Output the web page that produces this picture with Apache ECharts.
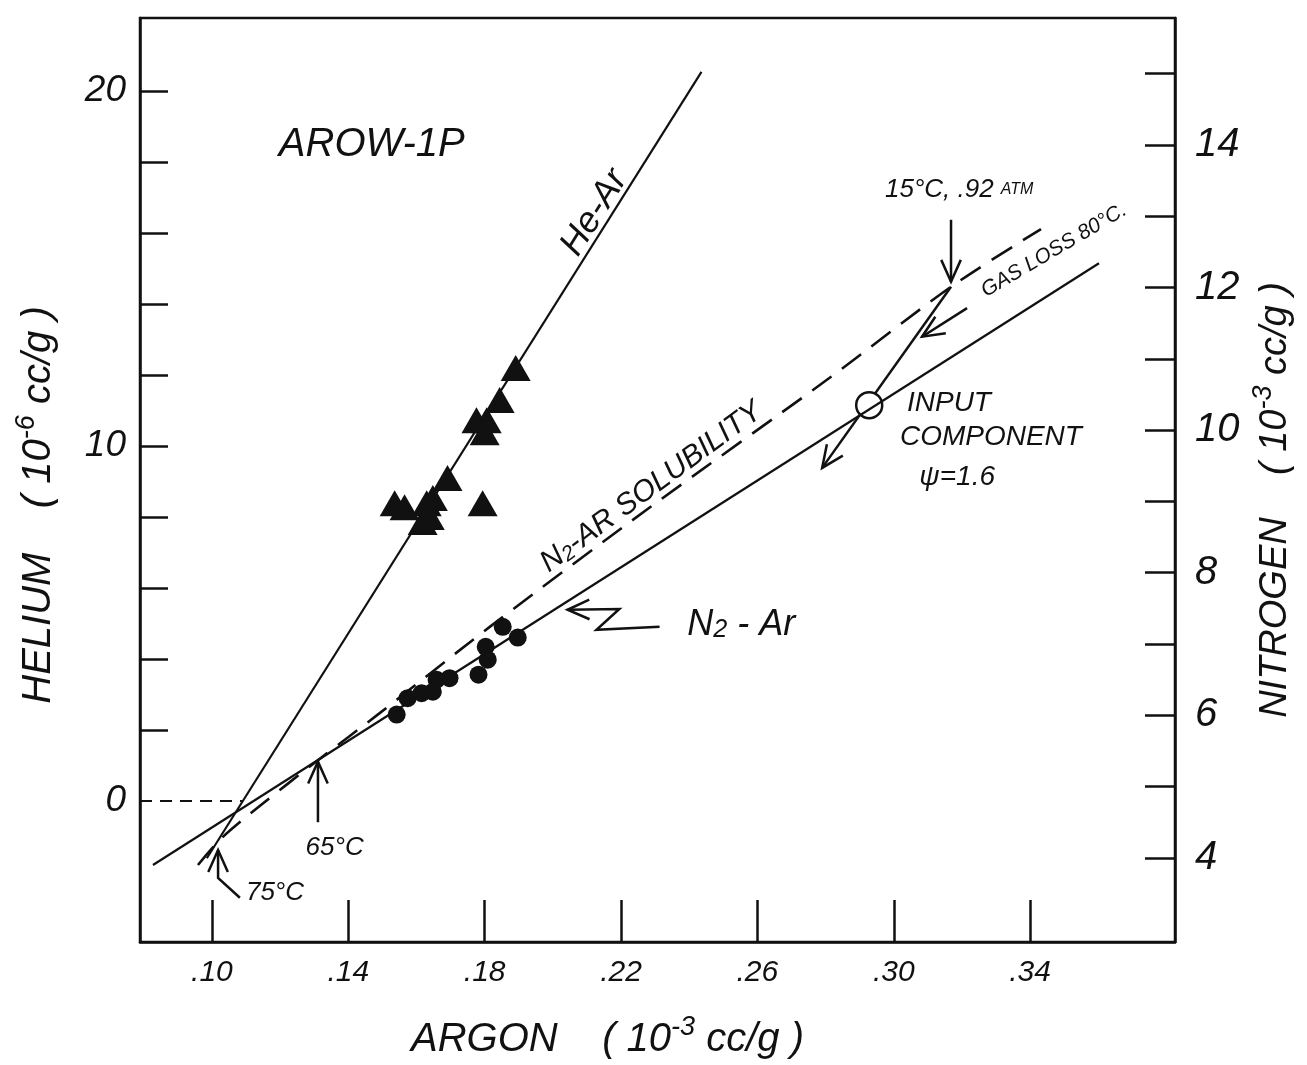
<!DOCTYPE html>
<html>
<head>
<meta charset="utf-8">
<script src="https://cdn.jsdelivr.net/npm/echarts@6/dist/echarts.min.js"></script>
<style>
  html, body { margin: 0; padding: 0; background: #fff; }
  #chart { width: 1307px; height: 1065px; }
</style>
</head>
<body>
<div id="chart"></div>
<script>
// argon in 10^-3 cc/g, helium in 10^-6 cc/g, nitrogen in 10^-3 cc/g
var argonTicks = [0.10, 0.14, 0.18, 0.22, 0.26, 0.30, 0.34]
var heliumTicks = [2, 4, 6, 8, 10, 12, 14, 16, 18, 20]
var heliumLabels = [0, 10, 20]
var nitrogenTicks = [4, 5, 6, 7, 8, 9, 10, 11, 12, 13, 14, 15]
var nitrogenLabels = [4, 6, 8, 10, 12, 14]

// He-Ar samples (triangles)
var heArPoints = [
  [0.1891, 12.20], [0.1844, 11.30], [0.1776, 10.73], [0.1806, 10.73],
  [0.1800, 10.39], [0.1691, 9.10], [0.1648, 8.54], [0.1630, 8.39],
  [0.1618, 7.86], [0.1639, 8.00], [0.1536, 8.39], [0.1565, 8.28],
  [0.1794, 8.39]
]
// N2-Ar samples (dots)
var n2ArPoints = [
  [0.1853, 7.24], [0.1897, 7.09], [0.1803, 6.96], [0.1809, 6.78],
  [0.1782, 6.57], [0.1697, 6.52], [0.1659, 6.50], [0.1648, 6.33],
  [0.1615, 6.31], [0.1574, 6.24], [0.1542, 6.01]
]
var heArFit = [[0.0985, -1.61], [0.2436, 20.54]]
var n2ArFit = [[0.0827, 3.90], [0.3602, 12.34]]
var solubility = [
  [0.0959, 3.90], [0.1029, 4.28], [0.1141, 4.73], [0.1311, 5.37],
  [0.1492, 6.03], [0.1815, 7.24], [0.2283, 8.91], [0.2811, 10.73],
  [0.3168, 12.01], [0.3432, 12.82]
]
var heliumZero = [[0.0789, 0], [0.1091, 0]]
var inputComponent = [[0.2928, 10.35]]

// arrows on the nitrogen scale, head at the last point
var arrows = [
  [[0.1311, 4.50], [0.1311, 5.35]],
  [[0.1082, 3.44], [0.1018, 3.72], [0.1018, 4.11]],
  [[0.3168, 12.95], [0.3168, 12.08]],
  [[0.3168, 12.01], [0.2790, 9.47]],
  [[0.3215, 11.71], [0.3083, 11.31]],
  [[0.2313, 7.24], [0.2128, 7.20], [0.2195, 7.49], [0.2043, 7.48]]
]

// notes: text, argon, nitrogen, angle
var notes = [
  ['AROW-1P', 0.1469, 14.00, 0],
  ['He-Ar', 0.2122, 13.05, 57.8],
  ['{t|N}{sub|2}{t|-AR SOLUBILITY}', 0.2289, 9.20, 36.3],
  ['{t|N}{sub|2}{t| - Ar}', 0.2553, 7.27, 0],
  ['65°C', 0.1360, 4.14, 0],
  ['75°C', 0.1185, 3.51, 0],
  ['{t|15°C, .92 }{s|ATM}', 0.3192, 13.37, 0],
  ['GAS LOSS 80°C.', 0.3470, 12.52, 30.5],
  ['INPUT', 0.3162, 10.38, 0],
  ['COMPONENT', 0.3285, 9.90, 0],
  ['ψ=1.6', 0.3186, 9.34, 0]
]

var font = 'Liberation Sans'
var ink = '#111'

var chart = echarts.init(document.getElementById('chart'), null, { renderer: 'canvas' })

function arrowItem(params, api) {
  var pts = arrows[params.dataIndex].map(function(p) { return api.coord(p) })
  var tip = pts[pts.length - 1]
  var prev = pts[pts.length - 2]
  var ang = Math.atan2(tip[1] - prev[1], tip[0] - prev[0])
  var len = 24
  var spread = 0.42
  var a1 = [tip[0] - len * Math.cos(ang - spread), tip[1] - len * Math.sin(ang - spread)]
  var a2 = [tip[0] - len * Math.cos(ang + spread), tip[1] - len * Math.sin(ang + spread)]
  var style = { stroke: ink, lineWidth: 2.5, fill: null }
  return {
    type: 'group',
    children: [
      { type: 'polyline', shape: { points: pts }, style: style },
      { type: 'polyline', shape: { points: [a1, tip, a2] }, style: style }
    ]
  }
}

function nameRich(size) {
  return {
    t: { fontSize: size, fontFamily: font, fontStyle: 'italic', color: ink },
    sup: { fontSize: 27, fontFamily: font, fontStyle: 'italic', color: ink, verticalAlign: 'top', padding: [0, 0, 24, 0] }
  }
}

var option = {
  animation: false,
  backgroundColor: '#fff',
  grid: {
    left: 140, right: 132, top: 18, bottom: 123,
    outerBoundsMode: 'none', containLabel: false,
    show: true, borderColor: ink, borderWidth: 2.5, backgroundColor: 'transparent'
  },
  xAxis: {
    type: 'value', min: 0.0789, max: 0.3825,
    splitLine: { show: false },
    axisLine: { onZero: false, lineStyle: { color: ink, width: 2.5 } },
    axisTick: { customValues: argonTicks, inside: true, length: 42, lineStyle: { color: ink, width: 2.5 } },
    axisLabel: {
      customValues: argonTicks, margin: 16, fontSize: 30, fontFamily: font, fontStyle: 'italic', color: ink,
      formatter: function(v) { return '.' + Math.round(v * 100) }
    },
    name: '{t|ARGON    ( 10}{sup|-3}{t| cc/g )}',
    nameLocation: 'middle', nameGap: 72,
    nameTextStyle: { padding: [0, 100, 0, 0], rich: nameRich(40) }
  },
  yAxis: [
    {
      type: 'value', min: -3.97, max: 22.06,
      splitLine: { show: false },
      axisLine: { onZero: false, lineStyle: { color: ink, width: 2.5 } },
      axisTick: { customValues: heliumTicks, inside: true, length: 28, lineStyle: { color: ink, width: 2.5 } },
      axisLabel: { customValues: heliumLabels, margin: 14, fontSize: 37, fontFamily: font, fontStyle: 'italic', color: ink },
      name: '{t|HELIUM    ( 10}{sup|-6}{t| cc/g )}',
      nameLocation: 'middle', nameGap: 76, nameRotate: 90,
      nameTextStyle: { padding: [0, 50, 0, 0], rich: nameRich(40) }
    },
    {
      type: 'value', min: 2.82, max: 15.78, position: 'right',
      splitLine: { show: false },
      axisLine: { onZero: false, lineStyle: { color: ink, width: 2.5 } },
      axisTick: { customValues: nitrogenTicks, inside: true, length: 30, lineStyle: { color: ink, width: 2.5 } },
      axisLabel: { customValues: nitrogenLabels, margin: 20, fontSize: 40, fontFamily: font, fontStyle: 'italic', color: ink },
      name: '{t|NITROGEN    ( 10}{sup|-3}{t| cc/g )}',
      nameLocation: 'middle', nameGap: 74, nameRotate: 90,
      nameTextStyle: { padding: [0, 40, 0, 0], rich: nameRich(38) }
    }
  ],
  series: [
    {
      type: 'line', data: heliumZero, yAxisIndex: 0, symbol: 'none',
      lineStyle: { color: ink, width: 2, type: [12, 8] }
    },
    {
      type: 'line', data: heArFit, yAxisIndex: 0, symbol: 'none',
      lineStyle: { color: ink, width: 2.2 }
    },
    {
      type: 'line', data: n2ArFit, yAxisIndex: 1, symbol: 'none',
      lineStyle: { color: ink, width: 2.2 }
    },
    {
      type: 'line', data: solubility, yAxisIndex: 1, symbol: 'none', smooth: 0.3,
      lineStyle: { color: ink, width: 2.6, type: [24, 13] }
    },
    {
      type: 'scatter', data: heArPoints, yAxisIndex: 0, symbol: 'triangle', symbolSize: [30, 26],
      itemStyle: { color: ink, opacity: 1 }
    },
    {
      type: 'scatter', data: n2ArPoints, yAxisIndex: 1, symbol: 'circle', symbolSize: 18,
      itemStyle: { color: ink, opacity: 1 }
    },
    {
      type: 'custom', yAxisIndex: 1, renderItem: arrowItem,
      data: arrows.map(function(a, i) { return [i] }),
      encode: { x: -1, y: -1 }
    },
    {
      type: 'scatter', data: inputComponent, yAxisIndex: 1, symbol: 'circle', symbolSize: 26,
      itemStyle: { color: '#fff', borderColor: ink, borderWidth: 2.5, opacity: 1 }
    },
    {
      type: 'scatter', yAxisIndex: 1, symbolSize: 0, silent: true,
      itemStyle: { color: ink, opacity: 1 },
      data: notes.map(function(n, i) {
        var size = [40, 36, 30, 36, 26, 26, 26, 21, 28, 28, 28][i]
        return {
          value: [n[1], n[2]],
          label: {
            show: true, position: 'inside', formatter: n[0], rotate: n[3],
            fontSize: size, fontFamily: font, fontStyle: 'italic', color: ink, opacity: 1,
            textBorderWidth: 0,
            rich: {
              t: { fontSize: size, fontFamily: font, fontStyle: 'italic', color: ink },
              sub: { fontSize: size * 0.7, fontFamily: font, fontStyle: 'italic', color: ink, verticalAlign: 'bottom', padding: [10, 0, 0, 0] },
              s: { fontSize: 16, fontFamily: font, fontStyle: 'italic', color: ink }
            }
          }
        }
      })
    }
  ]
}

option && chart.setOption(option)
</script>
</body>
</html>
